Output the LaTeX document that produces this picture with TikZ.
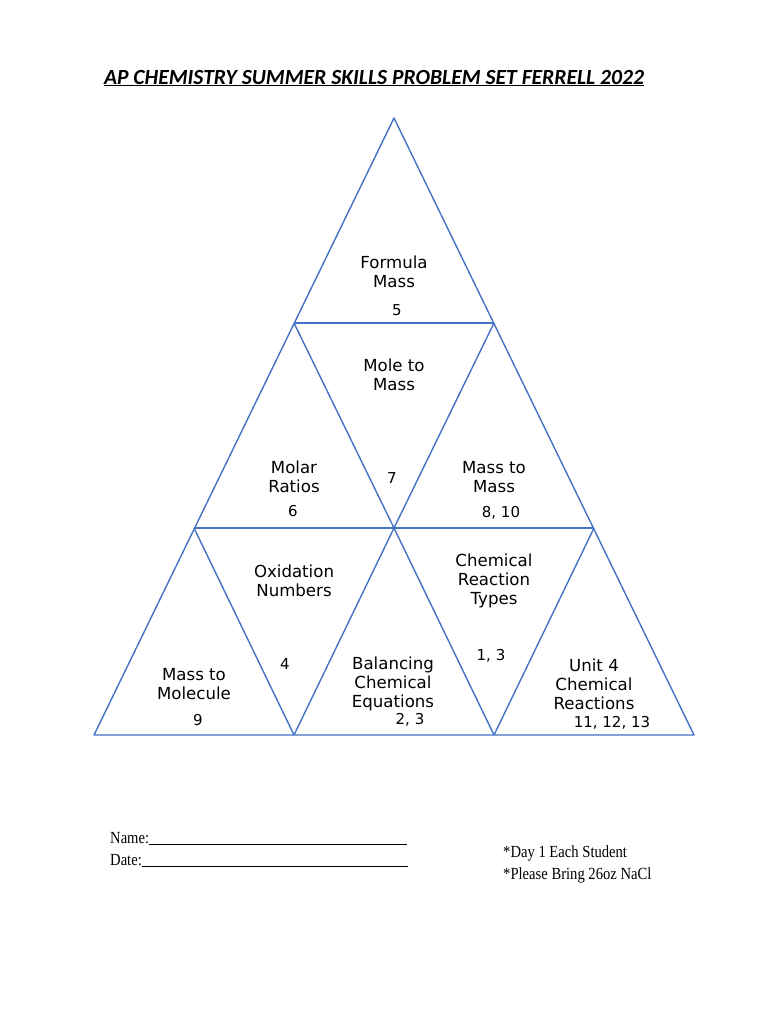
\documentclass[tikz,border=0pt]{standalone}
\usepackage{fontspec}
\setmainfont{Liberation Serif}
\newfontfamily\trifont{DejaVu Sans}
\newfontfamily\titlefont{Carlito}
\newfontfamily\notefont[FakeStretch=0.86]{Liberation Serif}
\definecolor{edgeblue}{RGB}{68,114,196}
\begin{document}
\begin{tikzpicture}[x=1pt,y=-1pt,
  edge/.style={draw=edgeblue,line width=1.4pt,line join=round},
  lbl/.style={font=\trifont\fontsize{16.6}{19}\selectfont,align=center,inner sep=0pt,anchor=center,text=black},
  num/.style={font=\trifont\fontsize{15}{18}\selectfont,inner sep=0pt,anchor=center},
  note/.style={font=\notefont\fontsize{17}{21}\selectfont,inner sep=0pt,anchor=base west}]
\useasboundingbox (0,0) rectangle (770,1024);
% vertices
\coordinate (A) at (394,118);
\coordinate (B1) at (294,323);
\coordinate (B2) at (494,323);
\coordinate (C1) at (194,528);
\coordinate (C2) at (394,528);
\coordinate (C3) at (594,528);
\coordinate (D1) at (94,735);
\coordinate (D2) at (294,735);
\coordinate (D3) at (494,735);
\coordinate (D4) at (694,735);
% edges
\draw[edge] (A) -- (D1) -- (D4) -- cycle;
\draw[edge] (B1) -- (B2);
\draw[edge] (C1) -- (C3);
\draw[edge] (B1) -- (C2) -- (D3);
\draw[edge] (B2) -- (C2) -- (D2);
\draw[edge] (C1) -- (D2);
\draw[edge] (C3) -- (D3);
% title
\node[font=\titlefont\bfseries\itshape\fontsize{21.6}{26}\selectfont,inner sep=0pt,anchor=center] (title) at (374,78) {\underline{AP CHEMISTRY SUMMER SKILLS PROBLEM SET FERRELL 2022}};
% labels
\node[lbl] (formula) at (394,272) {Formula\\Mass};
\node[num] (n5) at (397,310) {5};
\node[lbl] (mole) at (394,375) {Mole to\\Mass};
\node[num] (n7) at (392,478) {7};
\node[lbl] (molar) at (294,477) {Molar\\Ratios};
\node[num] (n6) at (293,511) {6};
\node[lbl] (masstomass) at (494,477) {Mass to\\Mass};
\node[num] (n810) at (501,513) {8, 10};
\node[lbl] (oxid) at (294,581) {Oxidation\\Numbers};
\node[num] (n4) at (285,664) {4};
\node[lbl] (chemtypes) at (494,581) {Chemical\\Reaction\\Types};
\node[num] (n13) at (491,656) {1, 3};
\node[lbl] (molecule) at (194,684) {Mass to\\Molecule};
\node[num] (n9) at (198,720) {9};
\node[lbl] (balancing) at (393,684) {Balancing\\Chemical\\Equations};
\node[num] (n23) at (410,720) {2, 3};
\node[lbl] (unit4) at (594,684) {Unit 4\\Chemical\\Reactions};
\node[num] (n111213) at (612,723) {11, 12, 13};
% notes
\node[note] (name) at (110,843) {Name:\rule[-1.5pt]{258pt}{0.6pt}};
\node[note] (date) at (110,865) {Date:\rule[-1.5pt]{266pt}{0.6pt}};
\node[note] (day) at (503,857) {*Day 1 Each Student};
\node[note] (bring) at (503,879) {*Please Bring 26oz NaCl};
\end{tikzpicture}
\end{document}
